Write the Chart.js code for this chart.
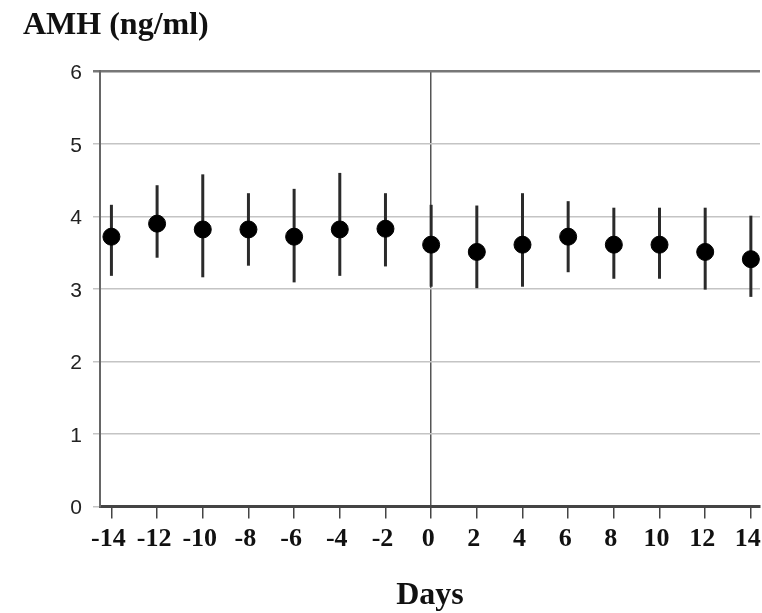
<!DOCTYPE html>
<html>
<head>
<meta charset="utf-8">
<script src="https://cdn.jsdelivr.net/npm/chart.js@4"></script>
<style>
  html, body { margin: 0; padding: 0; background: #fff; }
  #wrap { width: 762px; height: 613px; }
</style>
</head>
<body>
<div id="wrap"><canvas id="amhChart"></canvas></div>
<script>
// 数据
const dayTicks = [-14, -12, -10, -8, -6, -4, -2, 0, 2, 4, 6, 8, 10, 12, 14];
const amhMean  = [3.72, 3.90, 3.82, 3.82, 3.72, 3.82, 3.83, 3.61, 3.51, 3.61, 3.72, 3.61, 3.61, 3.51, 3.41];
const amhUpper = [4.16, 4.43, 4.58, 4.32, 4.38, 4.60, 4.32, 4.16, 4.15, 4.32, 4.21, 4.12, 4.12, 4.12, 4.01];
const amhLower = [3.18, 3.43, 3.16, 3.32, 3.09, 3.18, 3.31, 3.03, 3.01, 3.03, 3.23, 3.14, 3.14, 2.99, 2.89];
const yTicks = [0, 1, 2, 3, 4, 5, 6];

// 误差线
const errorBars = {
    id: 'errorBars',
    beforeDatasetsDraw(chart) {
        const { ctx, scales: { x, y } } = chart;
        ctx.save();
        ctx.strokeStyle = '#2a2a2a';
        ctx.lineWidth = 3;
        dayTicks.forEach((d, i) => {
            const px = x.getPixelForValue(d);
            ctx.beginPath();
            ctx.moveTo(px, y.getPixelForValue(amhLower[i]));
            ctx.lineTo(px, y.getPixelForValue(amhUpper[i]));
            ctx.stroke();
        });
        ctx.restore();
    }
};

new Chart(document.getElementById('amhChart'), {
    type: 'scatter',
    data: {
        datasets: [{
            data: dayTicks.map((d, i) => ({ x: d, y: amhMean[i] })),
            backgroundColor: '#000',
            borderColor: '#000',
            pointRadius: 8.5,
            pointHoverRadius: 8.5
        }]
    },
    plugins: [errorBars],
    options: {
        responsive: true,
        maintainAspectRatio: false,
        animation: false,
        layout: { autoPadding: false, padding: { left: 23, right: 2, top: 0, bottom: 0 } },
        plugins: {
            legend: { display: false },
            tooltip: { enabled: false },
            title: {
                display: true,
                text: 'AMH (ng/ml)',
                align: 'start',
                color: '#111',
                font: { family: 'Liberation Serif', size: 32, weight: 'bold' },
                padding: { top: 7, bottom: 26 }
            }
        },
        scales: {
            x: {
                type: 'linear',
                min: -14.5,
                max: 14.4,
                afterBuildTicks: scale => { scale.ticks = dayTicks.map(v => ({ value: v })); },
                afterFit: scale => { scale.paddingLeft = 0; scale.paddingRight = 0; },
                grid: {
                    color: c => c.tick && c.tick.value === 0 ? '#555' : 'rgba(0,0,0,0)',
                    lineWidth: 1.5,
                    tickColor: '#444',
                    tickLength: 12
                },
                border: { color: '#444', width: 3 },
                ticks: {
                    color: '#111',
                    padding: 5,
                    labelOffset: -3,
                    maxRotation: 0,
                    autoSkip: false,
                    font: { family: 'Liberation Serif', size: 26, weight: 'bold' }
                },
                title: {
                    display: true,
                    text: 'Days',
                    color: '#111',
                    font: { family: 'Liberation Serif', size: 32, weight: 'bold' },
                    padding: { top: 17, bottom: -2 }
                }
            },
            y: {
                min: 0,
                max: 6,
                afterBuildTicks: scale => { scale.ticks = yTicks.map(v => ({ value: v })); },
                afterFit: scale => { scale.width = 77; },
                grid: {
                    color: c => c.tick && c.tick.value === 6 ? '#777' : '#c4c4c4',
                    lineWidth: c => c.tick && c.tick.value === 6 ? 2.5 : 1.5,
                    tickLength: 7
                },
                border: { color: '#666', width: 2 },
                ticks: {
                    color: '#222',
                    padding: 11,
                    labelOffset: 2,
                    font: { family: 'Liberation Sans', size: 21 }
                }
            }
        }
    }
});
</script>
</body>
</html>
